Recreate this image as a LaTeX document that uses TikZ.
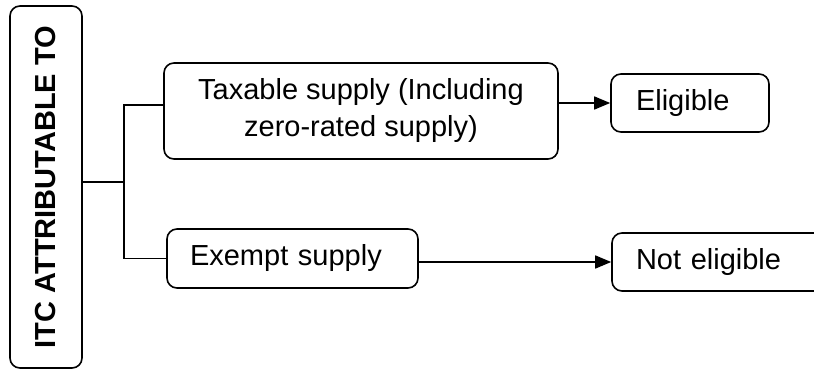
\documentclass[tikz,border=0pt]{standalone}
\usepackage{fontspec}
\setmainfont{Liberation Sans}
\usetikzlibrary{arrows.meta}
\begin{document}
\begin{tikzpicture}[x=1pt,y=-1pt,
  box/.style={draw,line width=1.6pt,rounded corners=10pt,inner sep=0pt,font=\fontsize{29}{37}\selectfont},
  link/.style={line width=1.6pt},
  arr/.style={line width=1.6pt,-{Triangle[length=16pt,width=13pt]}}]
\useasboundingbox (0,0) rectangle (814,369);
\node[box,rotate=90,minimum width=362pt,minimum height=72pt,font=\bfseries\fontsize{29}{37}\selectfont] (itc) at (46,187) {\raisebox{-1pt}{ITC ATTRIBUTABLE TO}};
\node[box,minimum width=394pt,minimum height=96pt,align=center] (tax) at (361,111) {Taxable supply (Including\\zero-rated supply)};
\node[box,minimum width=158pt,minimum height=58pt,text width=108pt,inner xsep=25pt,align=left] (elig) at (690,103) {Eligible};
\node[box,minimum width=251pt,minimum height=59pt,text width=205pt,inner xsep=23pt,align=left] (exempt) at (292.5,258.5) {Exempt supply};
\node[box,minimum width=223pt,minimum height=58pt,text width=175pt,inner xsep=24pt,align=left] (noel) at (723.5,262) {Not eligible};
\coordinate (j) at (124,182);
\coordinate (jt) at (124,105);
\coordinate (jb) at (124,258.5);
\draw[link] (itc.south |- j) -- (j);
\draw[link] (tax.west |- jt) -- (jt) -- (jb) -- (exempt.west);
\draw[arr] (tax.east |- elig) -- (elig.west);
\draw[arr] (exempt.east |- noel) -- (noel.west);
\end{tikzpicture}
\end{document}
